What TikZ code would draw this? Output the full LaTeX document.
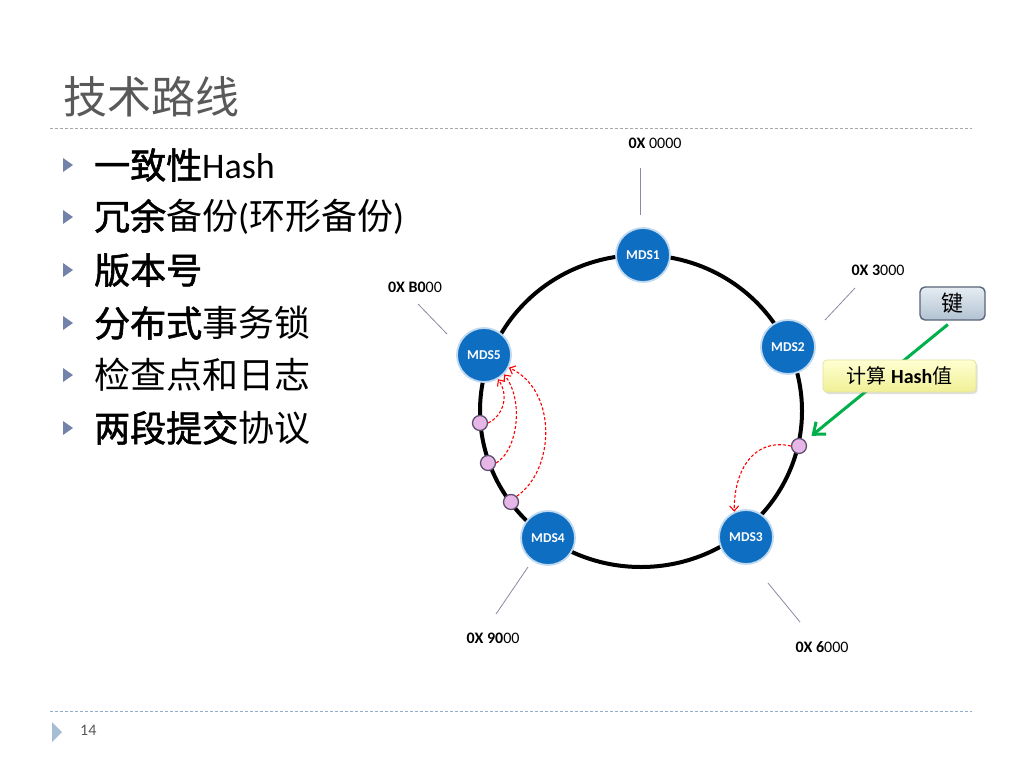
\documentclass[tikz,border=0pt]{standalone}
\usepackage{fontspec}
\setmainfont{Carlito}
\newfontfamily\cjk{Noto Sans CJK SC}
\newfontfamily\cjkb[FakeBold=1.6]{Noto Sans CJK SC}
\usetikzlibrary{arrows.meta,shadows}
\definecolor{mdsblue}{HTML}{0E6EC2}
\definecolor{mdsrim}{HTML}{BFD9F0}
\definecolor{ringpink}{HTML}{E6B6E6}
\definecolor{pinkrim}{HTML}{605070}
\definecolor{bulletc}{HTML}{7282A8}
\definecolor{titlegray}{HTML}{595959}
\definecolor{tickgray}{HTML}{8A8AA0}
\definecolor{keygreen}{HTML}{00B04A}
\definecolor{hashtop}{HTML}{FFFFD2}
\definecolor{hashbot}{HTML}{F0F096}
\definecolor{hashrim}{HTML}{E2E2A0}
\definecolor{keytop}{HTML}{E6EDF3}
\definecolor{keybot}{HTML}{B2C2D2}
\definecolor{keyrim}{HTML}{5A6478}
\definecolor{topdash}{HTML}{A8A8A8}
\definecolor{botdash}{HTML}{92AECB}
\definecolor{foottri}{HTML}{A5BDD5}
\begin{document}
\begin{tikzpicture}[x=1pt,y=-1pt,
  mds/.style={circle, fill=mdsblue, draw=mdsrim, line width=1.8pt, minimum size=54pt,
    inner sep=0pt, text=white, font=\fontsize{13.5}{15}\selectfont\bfseries},
  dot/.style={circle, fill=ringpink, draw=pinkrim, line width=1.3pt, minimum size=15pt, inner sep=0pt},
  hexlbl/.style={font=\fontsize{16}{18}\selectfont, inner sep=0pt},
  tick/.style={draw=tickgray, line width=0.8pt},
  redarc/.style={draw=red, dash pattern=on 3pt off 2pt, line width=1.1pt,
    -{Straight Barb[length=5pt,width=9pt]}},
  bullettext/.style={anchor=west, font=\fontsize{36}{40}\selectfont, inner sep=0pt},
  bulletmark/.style={fill=bulletc},
]
\useasboundingbox (0,0) rectangle (1024,768);
\fill[white] (0,0) rectangle (1024,768);

% title
\node[anchor=west, inner sep=0pt, text=titlegray, font=\cjk\fontsize{44}{48}\selectfont] (title) at (63,97) {技术路线};
\draw[topdash, line width=1pt, dash pattern=on 3pt off 2pt] (50,128) -- (972,128);

% bullets
\foreach \yy in {165,217,270,323,375,428}
  \fill[bulletmark] (63,\yy-7) -- (73,\yy) -- (63,\yy+7) -- cycle;
\node[bullettext] (b1) at (94,165) {{\cjkb 一致性}Hash};
\node[bullettext] (b2) at (94,217) {{\cjkb 冗余}{\cjk 备份}({\cjk 环形备份})};
\node[bullettext] (b3) at (94,270) {{\cjkb 版本号}};
\node[bullettext] (b4) at (94,323) {{\cjkb 分布式}{\cjk 事务锁}};
\node[bullettext] (b5) at (94,375) {{\cjk 检查点和日志}};
\node[bullettext] (b6) at (94,428) {{\cjkb 两段提交}{\cjk 协议}};

% hex labels and ticks
\node[hexlbl] (h0) at (655,143) {\textbf{0X} 0000};
\node[hexlbl] (h3) at (878,270) {\textbf{0X 3}000};
\node[hexlbl] (hb) at (415,287) {\textbf{0X B0}00};
\node[hexlbl] (h9) at (493,638) {\textbf{0X 90}00};
\node[hexlbl] (h6) at (822,647) {\textbf{0X 6}000};
\coordinate (t0a) at (640,168); \coordinate (t0b) at (640,215);
\coordinate (t3a) at (855,288); \coordinate (t3b) at (825,320);
\coordinate (tba) at (418,304); \coordinate (tbb) at (447,334);
\coordinate (t9a) at (528,567); \coordinate (t9b) at (496,614);
\coordinate (t6a) at (768,583); \coordinate (t6b) at (800,622);
\draw[tick] (t0a) -- (t0b);
\draw[tick] (t3a) -- (t3b);
\draw[tick] (tba) -- (tbb);
\draw[tick] (t9a) -- (t9b);
\draw[tick] (t6a) -- (t6b);

% ring
\draw[line width=4pt] (641,411) ellipse [x radius=161pt, y radius=156pt];

% key
\node[draw=keyrim, line width=1.4pt, rounded corners=5pt, top color=keytop, bottom color=keybot,
  minimum width=65pt, minimum height=33pt, inner sep=0pt, font=\cjk\fontsize{22}{24}\selectfont] (key) at (952.5,303.5) {键};

% nodes
\node[mds] (m1) at (643,255) {MDS1};
\node[mds] (m2) at (788,347) {MDS2};
\node[mds] (m3) at (746,537) {MDS3};
\node[mds] (m4) at (548,538) {MDS4};
\node[mds] (m5) at (484,355) {MDS5};

\node[dot] (c1) at (480,423) {};
\node[dot] (c2) at (488,463) {};
\node[dot] (c3) at (511,502) {};
\node[dot] (c4) at (799,446) {};

% green arrow
\draw[keygreen, line width=3pt, shorten <=6pt, shorten >=8pt,
  -{Straight Barb[length=10pt,width=16pt]}] (key.south) -- (c4);

\node[draw=hashrim, line width=0.8pt, rounded corners=4pt, top color=hashtop, bottom color=hashbot,
  drop shadow={shadow xshift=1.5pt, shadow yshift=-2pt, opacity=0.25},
  minimum width=153pt, minimum height=32pt, inner sep=0pt,
  font=\fontsize{20}{22}\selectfont] (hash) at (899.5,376) {{\cjk 计算} \textbf{Hash}{\cjk 值}};

% red dashed arcs
\draw[redarc] (c1.east) .. controls (504,415) and (509,395) .. (m5.-60);
\draw[redarc] (c2.east) .. controls (518,450) and (524,400) .. (m5.-44);
\draw[redarc] (c3.north east) .. controls (555,470) and (558,390) .. (m5.-27);
\draw[redarc] (c4.west) .. controls (755,438) and (734,468) .. (m3.115);

% footer
\draw[botdash, line width=1pt, dash pattern=on 3pt off 2pt] (50,711) -- (972,711);
\fill[foottri] (52,722) -- (62,732) -- (52,742) -- cycle;
\node[anchor=west, inner sep=0pt, text=titlegray, font=\fontsize{16}{18}\selectfont] (pg) at (80,730) {14};
\end{tikzpicture}
\end{document}
